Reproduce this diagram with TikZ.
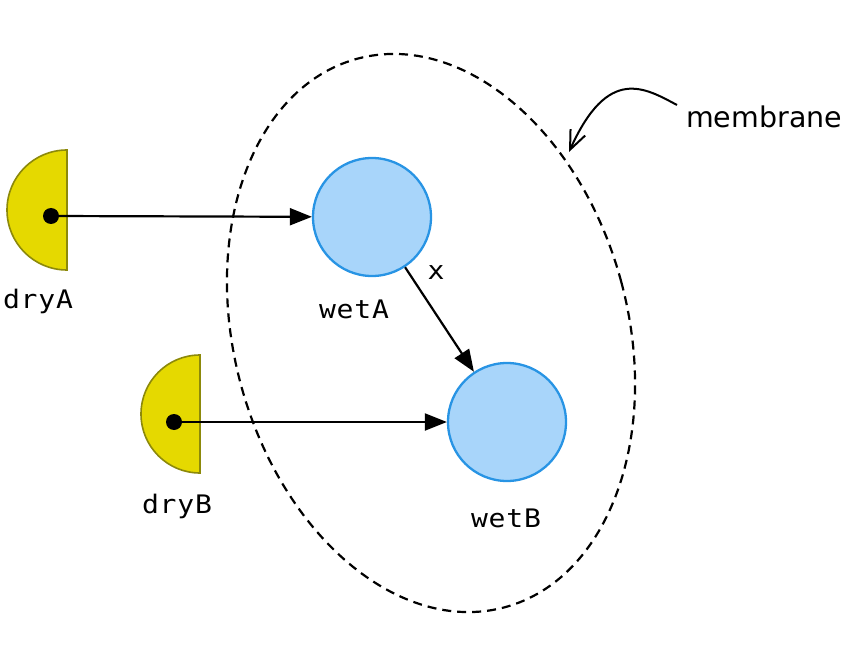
\documentclass[tikz,border=0pt]{standalone}
\usepackage{fontspec}
\setmainfont{DejaVu Sans}
\newfontfamily\lblfont[FakeStretch=1.1,LetterSpace=3]{DejaVu Sans Mono}
\usetikzlibrary{arrows.meta}
\definecolor{dryfill}{RGB}{229,217,0}
\definecolor{dryline}{RGB}{140,137,10}
\definecolor{wetfill}{RGB}{168,213,250}
\definecolor{wetline}{RGB}{40,148,228}
\tikzset{
  wetnode/.style={circle, draw=wetline, fill=wetfill, line width=2.3pt, minimum size=118pt, inner sep=0pt},
  drydisc/.style={fill=dryfill, draw=dryline, line width=1.6pt},
  drydot/.style={circle, fill=black, minimum size=16pt, inner sep=0pt},
  lbl/.style={font=\lblfont\fontsize{25.5}{28}\selectfont, anchor=base, inner sep=0pt},
  conn/.style={line width=2.2pt, -{Triangle[length=22pt,width=17pt]}},
  membr/.style={dashed, dash pattern=on 9pt off 6pt, line width=2.2pt},
}
\begin{document}
\begin{tikzpicture}[x=1pt,y=1pt]
\useasboundingbox (0,0) rectangle (850,662);
% membrane
\draw[membr] (431,329) ellipse[x radius=197, y radius=284, rotate=15];
% dry half discs
\filldraw[drydisc] (67,512) arc[start angle=90, end angle=270, radius=60] -- cycle;
\filldraw[drydisc] (200,307) arc[start angle=90, end angle=270, radius=59] -- cycle;
% wet circles
\node[wetnode] (wetA) at (372,445) {};
\node[wetnode] (wetB) at (507,240) {};
% dots
\node[drydot] (dotA) at (51,446) {};
\node[drydot] (dotB) at (174,240) {};
% connectors
\draw[conn] (dotA.center) -- (wetA);
\draw[conn] (dotB.center) -- (wetB);
\draw[conn] (wetA) -- (wetB);
% labels
\node[lbl] (lA) at (38,354) {dryA};
\node[lbl] (lB) at (177,149) {dryB};
\node[lbl] (lwA) at (354,344) {wetA};
\node[lbl] (lwB) at (506,135) {wetB};
\node[lbl] (lx) at (436,382) {x};
\node[font=\fontsize{28.5}{32}\selectfont, anchor=base west, inner sep=0pt] (mlabel) at (686,534) {membrane};
% membrane pointer
\coordinate (mstart) at (677,557);
\coordinate (mtip) at (569,510);
\draw[line width=2pt, -{Straight Barb[length=19pt,width=16pt]}] (mstart) .. controls (645,574) and (608,597) .. (mtip);
\end{tikzpicture}
\end{document}
